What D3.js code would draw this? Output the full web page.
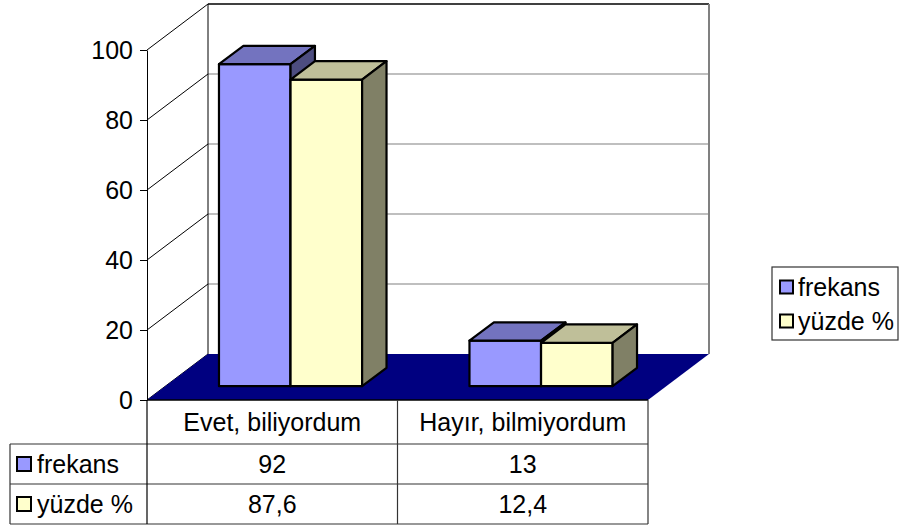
<!DOCTYPE html>
<html>
<head>
<meta charset="utf-8">
<script src="https://cdn.jsdelivr.net/npm/d3@7"></script>
<style>
  body { margin: 0; background: #fff; }
  svg { display: block; font-family: "Liberation Sans", Arial, sans-serif; }
</style>
</head>
<body>
<div id="chart"></div>
<script>
// chart data
var categories = ["Evet, biliyordum", "Hayır, bilmiyordum"];
var seriesNames = ["frekans", "yüzde %"];
var frekans = [92, 13];
var yuzde = [87.6, 12.4];
var yTicks = [0, 20, 40, 60, 80, 100];

var seriesValues = [frekans, yuzde];
var seriesColors = ["#9999FF", "#FFFFCC"];

var width = 899, height = 526;
var fontSize = 25;

var svg = d3.select("#chart").append("svg")
    .attr("width", width)
    .attr("height", height);

// front plane scales + depth offset
var y = d3.scaleLinear().domain([0, 100]).range([400, 50]);
var x = d3.scaleBand().domain(categories).range([147, 648]);
var xs = d3.scaleBand().domain(seriesNames).range([0, x.bandwidth()]).paddingOuter(0.75);
var depthX = 61, depthY = -46;
function px(xv, z) { return xv + z * depthX; }
function py(yv, z) { return yv + z * depthY; }

var fmt = d3.formatLocale({ decimal: ",", thousands: ".", grouping: [3], currency: ["", ""] }).format("~f");

// back wall + gridlines
var x0 = x.range()[0], x1 = x.range()[1];
var walls = svg.append("g");
walls.selectAll("line.grid")
    .data(yTicks.filter(function (d) { return d > 0 && d < 100; }))
    .enter().append("line")
    .attr("class", "grid")
    .attr("x1", px(x0, 1)).attr("x2", px(x1, 1))
    .attr("y1", function (d) { return py(y(d), 1); })
    .attr("y2", function (d) { return py(y(d), 1); })
    .attr("stroke", "#808080").attr("stroke-width", 1.2);

// left side wall diagonals
walls.selectAll("line.diag")
    .data(yTicks)
    .enter().append("line")
    .attr("class", "diag")
    .attr("x1", x0).attr("x2", px(x0, 1))
    .attr("y1", function (d) { return y(d); })
    .attr("y2", function (d) { return py(y(d), 1); })
    .attr("stroke", "#000").attr("stroke-width", 1);

// wall borders
walls.append("line")
    .attr("x1", px(x0, 1)).attr("x2", px(x0, 1))
    .attr("y1", py(y(100), 1)).attr("y2", py(y(0), 1))
    .attr("stroke", "#000").attr("stroke-width", 1);
walls.append("line")
    .attr("x1", px(x0, 1)).attr("x2", px(x1, 1))
    .attr("y1", py(y(100), 1)).attr("y2", py(y(100), 1))
    .attr("stroke", "#000").attr("stroke-width", 1.5);
walls.append("line")
    .attr("x1", px(x1, 1)).attr("x2", px(x1, 1))
    .attr("y1", py(y(100), 1)).attr("y2", py(y(0), 1))
    .attr("stroke", "#808080").attr("stroke-width", 2);

// floor
svg.append("polygon")
    .attr("points", [[x0, y(0)], [x1, y(0)], [px(x1, 1), py(y(0), 1)], [px(x0, 1), py(y(0), 1)]].join(" "))
    .attr("fill", "#000080");

// bars
var z0 = 0.3, z1 = 0.7;
var barsG = svg.append("g");
categories.forEach(function (cat, ci) {
    seriesNames.forEach(function (s, si) {
        var v = seriesValues[si][ci];
        var L = x(cat) + xs(s), R = L + xs.bandwidth();
        var T = y(v), B = y(0);
        var c = d3.rgb(seriesColors[si]);
        var topC = d3.rgb(c.r * 0.75, c.g * 0.75, c.b * 0.75);
        var sideC = d3.rgb(c.r * 0.5, c.g * 0.5, c.b * 0.5);
        var g = barsG.append("g")
            .attr("stroke", "#000").attr("stroke-width", 2.2).attr("stroke-linejoin", "round");
        // front
        g.append("polygon")
            .attr("points", [[px(L, z0), py(T, z0)], [px(R, z0), py(T, z0)], [px(R, z0), py(B, z0)], [px(L, z0), py(B, z0)]].join(" "))
            .attr("fill", c);
        // top
        g.append("polygon")
            .attr("points", [[px(L, z0), py(T, z0)], [px(R, z0), py(T, z0)], [px(R, z1), py(T, z1)], [px(L, z1), py(T, z1)]].join(" "))
            .attr("fill", topC);
        // side
        g.append("polygon")
            .attr("points", [[px(R, z0), py(T, z0)], [px(R, z1), py(T, z1)], [px(R, z1), py(B, z1)], [px(R, z0), py(B, z0)]].join(" "))
            .attr("fill", sideC);
    });
});

// y axis
var yAxis = svg.append("g")
    .attr("transform", "translate(" + x0 + ",0)")
    .call(d3.axisLeft(y).tickValues(yTicks).tickSize(7).tickSizeOuter(0).tickPadding(7));
yAxis.selectAll("text").attr("font-size", fontSize).attr("fill", "#000").attr("font-family", "Liberation Sans, Arial, sans-serif");
yAxis.selectAll("line, path").attr("stroke", "#000");

// data table
var rowTop = [400, 444, 484, 524];
var tableLeft = 10;
var table = svg.append("g").attr("stroke", "#333").attr("stroke-width", 1.2);
// floor front edge / header top
table.append("line").attr("x1", x0).attr("x2", x1).attr("y1", rowTop[0]).attr("y2", rowTop[0]).attr("stroke", "#000").attr("stroke-width", 1.5);
[1, 2, 3].forEach(function (i) {
    table.append("line").attr("x1", tableLeft).attr("x2", x1).attr("y1", rowTop[i]).attr("y2", rowTop[i]);
});
table.append("line").attr("x1", tableLeft).attr("x2", tableLeft).attr("y1", rowTop[1]).attr("y2", rowTop[3]);
table.append("line").attr("x1", x0).attr("x2", x0).attr("y1", rowTop[0]).attr("y2", rowTop[3]).attr("stroke", "#000");
categories.forEach(function (cat) {
    table.append("line").attr("x1", x(cat) + x.bandwidth()).attr("x2", x(cat) + x.bandwidth())
        .attr("y1", rowTop[0]).attr("y2", rowTop[3]);
});

var texts = svg.append("g").attr("font-size", fontSize).attr("fill", "#000");
texts.selectAll("text.cat")
    .data(categories)
    .enter().append("text")
    .attr("class", "cat")
    .attr("x", function (d) { return x(d) + x.bandwidth() / 2; })
    .attr("y", (rowTop[0] + rowTop[1]) / 2)
    .attr("dy", "0.35em")
    .attr("text-anchor", "middle")
    .text(function (d) { return d; });

seriesNames.forEach(function (s, si) {
    var cy = (rowTop[si + 1] + rowTop[si + 2]) / 2;
    texts.selectAll("text.val" + si)
        .data(seriesValues[si])
        .enter().append("text")
        .attr("x", function (d, i) { return x(categories[i]) + x.bandwidth() / 2; })
        .attr("y", cy)
        .attr("dy", "0.35em")
        .attr("text-anchor", "middle")
        .text(function (d) { return fmt(d); });
    svg.append("rect")
        .attr("x", 17).attr("y", cy - 7).attr("width", 14).attr("height", 14)
        .attr("fill", seriesColors[si]).attr("stroke", "#000").attr("stroke-width", 2);
    texts.append("text")
        .attr("x", 37).attr("y", cy).attr("dy", "0.35em")
        .text(s);
});

// legend
var legend = svg.append("g");
legend.append("rect")
    .attr("x", 772).attr("y", 267).attr("width", 126).attr("height", 73)
    .attr("fill", "#fff").attr("stroke", "#333").attr("stroke-width", 1.2);
seriesNames.forEach(function (s, si) {
    var cy = 287 + si * 34;
    legend.append("rect")
        .attr("x", 780).attr("y", cy - 6.5).attr("width", 13).attr("height", 13)
        .attr("fill", seriesColors[si]).attr("stroke", "#000").attr("stroke-width", 2);
    legend.append("text")
        .attr("x", 798).attr("y", cy).attr("dy", "0.35em")
        .attr("font-size", fontSize).attr("fill", "#000")
        .text(s);
});
</script>
</body>
</html>
